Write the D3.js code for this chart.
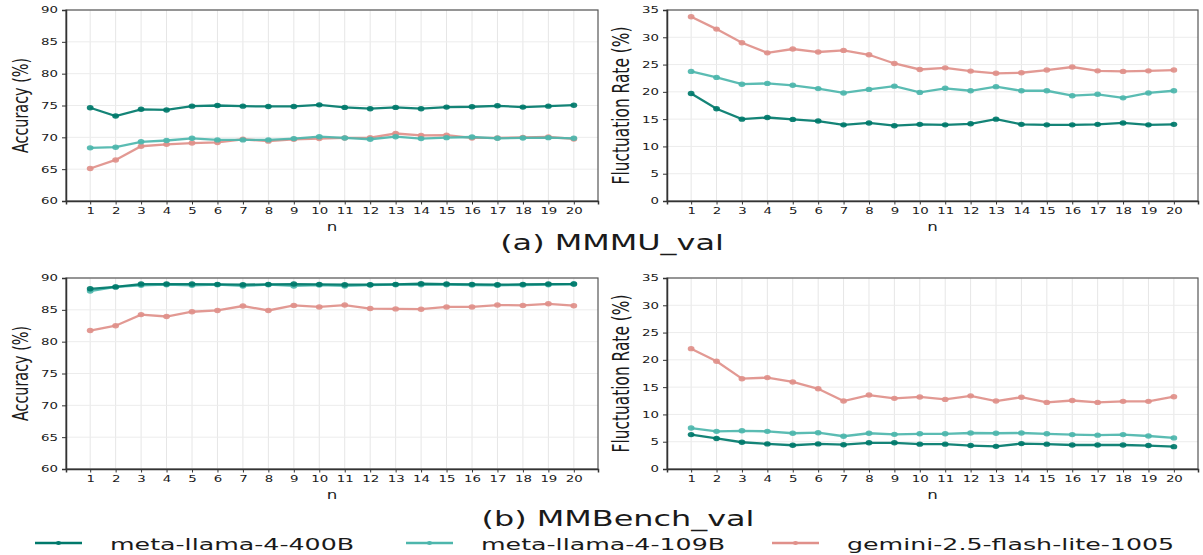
<!DOCTYPE html>
<html>
<head>
<meta charset="utf-8">
<script src="https://cdn.jsdelivr.net/npm/d3@7"></script>
<style>
  body { margin: 0; background: #fff; }
  text { font-family: "DejaVu Sans", sans-serif; fill: #1a1a1a; }
</style>
</head>
<body>
<script>
// x values shared by every panel
let nValues = [1, 2, 3, 4, 5, 6, 7, 8, 9, 10, 11, 12, 13, 14, 15, 16, 17, 18, 19, 20]

let modelNames = ["meta-llama-4-400B", "meta-llama-4-109B", "gemini-2.5-flash-lite-1005"]

// (a) MMMU_val
let mmmuAcc400B   = [74.65, 73.35, 74.4, 74.3, 74.9, 75.0, 74.9, 74.85, 74.85, 75.1, 74.7, 74.5, 74.7, 74.5, 74.75, 74.8, 74.95, 74.75, 74.9, 75.05]
let mmmuAcc109B   = [68.35, 68.45, 69.3, 69.5, 69.85, 69.6, 69.6, 69.6, 69.8, 70.1, 69.9, 69.7, 70.1, 69.8, 69.95, 70.05, 69.85, 69.9, 69.95, 69.85]
let mmmuAccGemini = [65.1, 66.45, 68.6, 68.9, 69.1, 69.2, 69.7, 69.4, 69.7, 69.8, 69.9, 69.95, 70.6, 70.3, 70.35, 69.9, 69.9, 70.0, 70.05, 69.75]
let mmmuFluct400B   = [19.7, 16.9, 15.0, 15.3, 14.95, 14.65, 13.95, 14.3, 13.8, 14.05, 13.95, 14.15, 15.0, 14.05, 13.95, 13.95, 14.05, 14.3, 13.95, 14.05]
let mmmuFluct109B   = [23.75, 22.65, 21.4, 21.55, 21.2, 20.6, 19.8, 20.45, 21.05, 19.9, 20.65, 20.2, 20.95, 20.2, 20.2, 19.3, 19.55, 18.9, 19.8, 20.2]
let mmmuFluctGemini = [33.75, 31.5, 29.0, 27.15, 27.85, 27.3, 27.6, 26.8, 25.2, 24.1, 24.4, 23.8, 23.4, 23.5, 24.0, 24.55, 23.85, 23.75, 23.85, 24.0]

// (b) MMBench_val
let mmbAcc400B   = [88.3, 88.6, 89.05, 89.05, 89.05, 89.0, 88.95, 89.0, 89.05, 89.0, 88.95, 88.95, 89.0, 89.1, 89.05, 89.0, 88.95, 89.0, 89.05, 89.05]
let mmbAcc109B   = [87.95, 88.6, 88.85, 88.95, 88.85, 88.95, 88.75, 88.95, 88.75, 88.9, 88.75, 88.9, 88.95, 88.95, 88.95, 88.9, 88.85, 88.9, 88.95, 89.05]
let mmbAccGemini = [81.75, 82.5, 84.25, 83.95, 84.7, 84.9, 85.6, 84.9, 85.7, 85.45, 85.75, 85.2, 85.15, 85.1, 85.45, 85.45, 85.75, 85.7, 85.95, 85.65]
let mmbFluct400B   = [6.3, 5.6, 4.9, 4.6, 4.35, 4.6, 4.45, 4.8, 4.8, 4.55, 4.55, 4.3, 4.15, 4.65, 4.55, 4.4, 4.4, 4.4, 4.3, 4.1]
let mmbFluct109B   = [7.5, 6.9, 7.0, 6.9, 6.55, 6.65, 6.0, 6.55, 6.35, 6.45, 6.45, 6.6, 6.55, 6.6, 6.45, 6.3, 6.2, 6.3, 6.05, 5.7]
let mmbFluctGemini = [22.05, 19.75, 16.55, 16.75, 15.95, 14.7, 12.45, 13.55, 12.95, 13.2, 12.75, 13.4, 12.45, 13.15, 12.2, 12.55, 12.2, 12.4, 12.4, 13.25]

let accTicks = [60, 65, 70, 75, 80, 85, 90]
let fluctTicks = [0, 5, 10, 15, 20, 25, 30, 35]

let colors = ["#00796b", "#4db6ac", "#e0908a"]

// the reference picture is stretched sideways, so text is widened too
const SX = 1.45

let svg = d3.select("body")
            .append("svg")
            .attr("width", 1203)
            .attr("height", 555)

// place a text with the sideways stretch
function addText(g, x, y, str, size, anchor, rot, sx) {
  return g.append("text")
          .attr("transform", `translate(${x},${y}) scale(${sx || SX},1) rotate(${rot || 0})`)
          .attr("text-anchor", anchor || "middle")
          .style("font-size", size + "px")
          .text(str)
}

function drawPanel(box, yDomain, yTicks, yLabel, labelSize, seriesList) {
  let [x0, y0, x1, y1] = box
  let g = svg.append("g")

  let x = d3.scaleLinear().domain([0.05, 20.95]).range([x0, x1])
  let y = d3.scaleLinear().domain(yDomain).range([y1, y0])

  // grid
  g.selectAll(".vg").data(nValues).enter().append("line")
   .attr("x1", d => x(d)).attr("x2", d => x(d))
   .attr("y1", y0).attr("y2", y1)
   .attr("stroke", "#e6e6e6").attr("stroke-width", 1)
  g.selectAll(".hg").data(yTicks).enter().append("line")
   .attr("x1", x0).attr("x2", x1)
   .attr("y1", d => y(d)).attr("y2", d => y(d))
   .attr("stroke", "#ececec").attr("stroke-width", 1)

  // frame: top/right lighter, left/bottom dark
  g.append("rect")
   .attr("x", x0).attr("y", y0)
   .attr("width", x1 - x0).attr("height", y1 - y0)
   .attr("fill", "none").attr("stroke", "#555").attr("stroke-width", 1.2)

  let ax = g.append("g").attr("transform", `translate(0,${y1})`)
            .call(d3.axisBottom(x).tickValues(nValues).tickSize(3.5).tickPadding(3))
  let ay = g.append("g").attr("transform", `translate(${x0},0)`)
            .call(d3.axisLeft(y).tickValues(yTicks).tickSize(4).tickPadding(6))
  ax.select(".domain").attr("stroke", "#333").attr("stroke-width", 1.5)
  ay.select(".domain").attr("stroke", "#333").attr("stroke-width", 1.5)
  ax.selectAll(".tick line").attr("stroke", "#333")
  ay.selectAll(".tick line").attr("stroke", "#333")
  ax.selectAll("text").style("font-size", "9.2px").attr("fill", "#1a1a1a")
    .attr("transform", `scale(${SX},1)`)
  ay.selectAll("text").style("font-size", "9.2px").attr("fill", "#1a1a1a")
    .attr("x", -8 / SX)
    .attr("transform", `scale(${SX},1)`)

  addText(g, (x0 + x1) / 2, y1 + 30, "n", 11.5)
  addText(g, x0 - 38, (y0 + y1) / 2, yLabel, labelSize, "middle", -90)

  let line = d3.line().x((d, i) => x(nValues[i])).y(d => y(d))

  // draw the gemini line first so the llama lines sit on top
  seriesList.map((vals, k) => ({ vals, k })).reverse().forEach(s => {
    g.append("path")
     .attr("d", line(s.vals))
     .attr("fill", "none")
     .attr("stroke", colors[s.k])
     .attr("stroke-width", 2.3)
     .attr("stroke-opacity", 0.92)
    g.selectAll(null).data(s.vals).enter().append("ellipse")
     .attr("cx", (d, i) => x(nValues[i]))
     .attr("cy", d => y(d))
     .attr("rx", 3.4).attr("ry", 2.7)
     .attr("fill", colors[s.k])
     .attr("fill-opacity", 0.92)
  })
}

drawPanel([66, 10, 598, 201], [60, 90], accTicks, "Accuracy (%)", 14.4,
          [mmmuAcc400B, mmmuAcc109B, mmmuAccGemini])
drawPanel([667, 10, 1198, 201], [0, 35], fluctTicks, "Fluctuation Rate (%)", 15.4,
          [mmmuFluct400B, mmmuFluct109B, mmmuFluctGemini])
drawPanel([66, 278, 598, 469], [60, 90], accTicks, "Accuracy (%)", 14.4,
          [mmbAcc400B, mmbAcc109B, mmbAccGemini])
drawPanel([667, 278, 1198, 469], [0, 35], fluctTicks, "Fluctuation Rate (%)", 15.4,
          [mmbFluct400B, mmbFluct109B, mmbFluctGemini])

// captions
addText(svg, 612, 250, "(a) MMMU_val", 22)
addText(svg, 618, 526, "(b) MMBench_val", 22)

// legend
let legendX = [35, 406, 772]
let legend = svg.append("g")
legendX.forEach((lx, k) => {
  legend.append("line")
        .attr("x1", lx).attr("x2", lx + 47)
        .attr("y1", 543).attr("y2", 543)
        .attr("stroke", colors[k]).attr("stroke-width", 2.3)
  legend.append("ellipse")
        .attr("cx", lx + 23.5).attr("cy", 543)
        .attr("rx", 2.6).attr("ry", 2)
        .attr("fill", colors[k])
  addText(legend, lx + 75, 549.5, modelNames[k], 16.3, "start", 0, 1.55)
})
</script>
</body>
</html>
